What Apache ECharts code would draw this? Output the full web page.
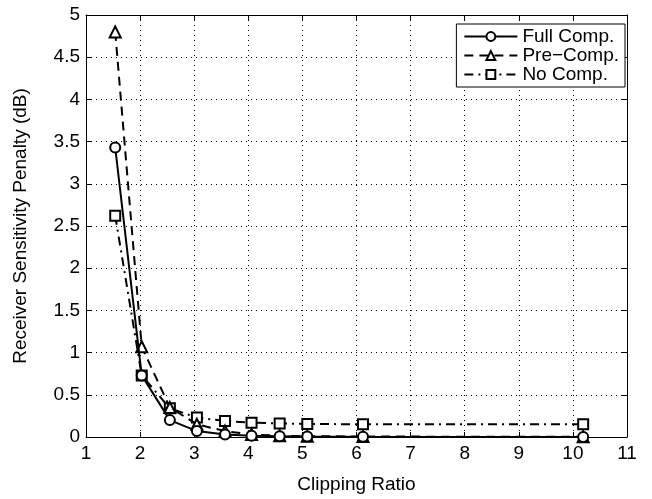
<!DOCTYPE html>
<html>
<head>
<meta charset="utf-8">
<script src="https://cdn.jsdelivr.net/npm/echarts@6/dist/echarts.min.js"></script>
<style>
  html, body { margin: 0; padding: 0; background: #fff; }
  #chart { width: 652px; height: 499px; }
</style>
</head>
<body>
<div id="chart"></div>
<script>
// clipping ratio values
const clipRatio = [1.54, 2.03, 2.55, 3.05, 3.57, 4.06, 4.58, 5.09, 6.12, 10.19]
const fullComp = [3.43, 0.73, 0.2, 0.07, 0.03, 0.015, 0.01, 0.005, 0.002, 0]
const preComp = [4.8, 1.07, 0.35, 0.15, 0.07, 0.03, 0.015, 0.01, 0.005, 0.003]
const noComp = [2.62, 0.73, 0.34, 0.23, 0.19, 0.17, 0.16, 0.155, 0.15, 0.15]

const font = 'Liberation Sans, Arial, sans-serif'
const pairs = ys => clipRatio.map((x, i) => [x, ys[i]])

const chart = echarts.init(document.getElementById('chart'))

const axisCommon = {
  axisLine: { show: true, onZero: false, lineStyle: { color: '#000', width: 1 } },
  axisTick: { show: true, inside: true, length: 5, lineStyle: { color: '#000' } }
}

chart.setOption({
  animation: false,
  backgroundColor: '#fff',
  grid: { left: 86, right: 25, top: 15, bottom: 57 },
  legend: {
    right: 27, top: 24,
    orient: 'vertical',
    backgroundColor: '#fff',
    borderColor: '#000', borderWidth: 1,
    padding: [3, 6, 3, 7],
    itemGap: 0,
    itemWidth: 53, itemHeight: 11,
    textStyle: { fontFamily: font, fontSize: 19, lineHeight: 19, color: '#000' },
    data: ['Full Comp.', 'Pre\u2212Comp.', 'No Comp.']
  },
  xAxis: [{
    type: 'value', min: 1, max: 11, interval: 1,
    name: 'Clipping Ratio', nameLocation: 'middle', nameGap: 38,
    nameTextStyle: { fontFamily: font, fontSize: 19, color: '#000' },
    axisLabel: { fontFamily: font, fontSize: 19, color: '#000', margin: 7 },
    splitLine: { show: true, lineStyle: { color: '#000', type: [1, 4], width: 1 } },
    ...axisCommon
  }, {
    type: 'value', min: 1, max: 11, interval: 1, position: 'top',
    axisLabel: { show: false }, splitLine: { show: false },
    ...axisCommon
  }],
  yAxis: [{
    type: 'value', min: 0, max: 5, interval: 0.5,
    name: 'Receiver Sensitivity Penalty (dB)', nameLocation: 'middle', nameGap: 56,
    nameTextStyle: { fontFamily: font, fontSize: 19, color: '#000' },
    axisLabel: { fontFamily: font, fontSize: 19, color: '#000', margin: 6 },
    splitLine: { show: true, lineStyle: { color: '#000', type: [1, 4], width: 1 } },
    ...axisCommon
  }, {
    type: 'value', min: 0, max: 5, interval: 0.5, position: 'right',
    axisLabel: { show: false }, splitLine: { show: false },
    ...axisCommon
  }],
  series: [{
    name: 'Full Comp.', type: 'line', data: pairs(fullComp),
    symbol: 'circle', symbolSize: 10,
    itemStyle: { color: '#fff', borderColor: '#000', borderWidth: 2 },
    lineStyle: { color: '#000', width: 2, type: 'solid' },
    z: 4
  }, {
    name: 'Pre\u2212Comp.', type: 'line', data: pairs(preComp),
    symbol: 'triangle', symbolSize: 11,
    itemStyle: { color: '#fff', borderColor: '#000', borderWidth: 2 },
    lineStyle: { color: '#000', width: 2, type: [9, 6] },
    z: 3
  }, {
    name: 'No Comp.', type: 'line', data: pairs(noComp),
    symbol: 'rect', symbolSize: 10,
    itemStyle: { color: '#fff', borderColor: '#000', borderWidth: 2 },
    lineStyle: { color: '#000', width: 2, type: [9, 5, 2, 5] },
    z: 2
  }]
})
</script>
</body>
</html>
